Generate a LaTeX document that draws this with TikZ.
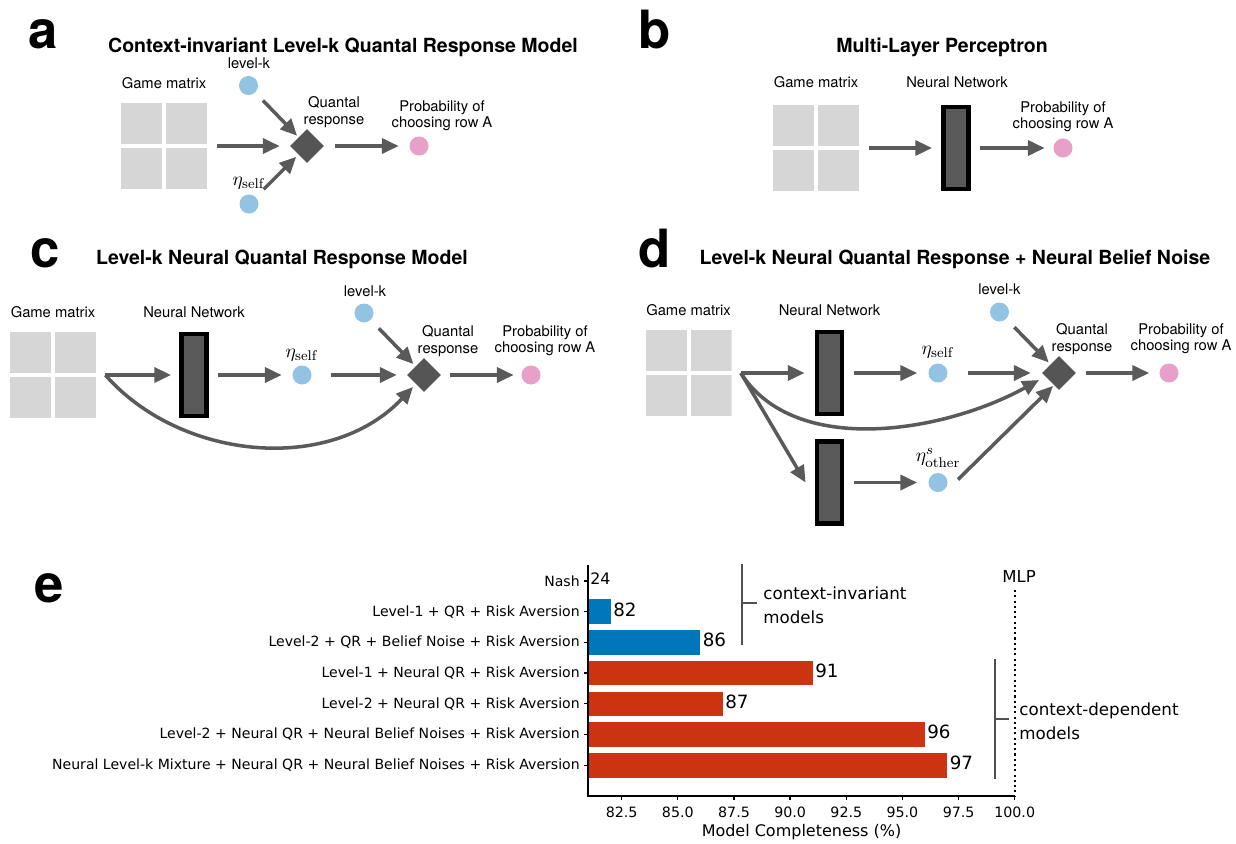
\documentclass[tikz,border=0pt]{standalone}
\usepackage[no-math]{fontspec}
\setmainfont{TeX Gyre Heros}
\newfontfamily\dvs{DejaVu Sans}
\usetikzlibrary{arrows.meta,shapes.geometric}
\definecolor{arr}{RGB}{90,90,90}
\definecolor{dia}{RGB}{85,85,85}
\definecolor{nnfill}{RGB}{90,90,90}
\definecolor{cellgray}{RGB}{214,214,214}
\definecolor{cblue}{RGB}{146,195,227}
\definecolor{cpink}{RGB}{231,161,200}
\definecolor{barblue}{RGB}{0,119,187}
\definecolor{barred}{RGB}{204,51,17}
\definecolor{brk}{RGB}{80,80,80}
\begin{document}
\begin{tikzpicture}[x=0.02cm,y=-0.02cm,
  flow/.style={draw=arr, line width=2pt, -{Triangle[length=9.5pt,width=8.5pt]}},
  ball/.style={circle, inner sep=0, minimum size=0.38cm},
  bball/.style={ball, fill=cblue},
  pball/.style={ball, fill=cpink},
  qrnode/.style={diamond, fill=dia, inner sep=0, minimum size=0.68cm},
  nnnode/.style={rectangle, draw=black, fill=nnfill, line width=2.8pt, minimum width=0.5cm, minimum height=1.64cm, inner sep=0},
  gridbox/.style={rectangle, minimum size=1.72cm, inner sep=0, path picture={
    \fill[cellgray] ([shift={(-0.86cm,0.86cm)}]path picture bounding box.center) rectangle ++(0.82cm,-0.82cm);
    \fill[cellgray] ([shift={(0.04cm,0.86cm)}]path picture bounding box.center) rectangle ++(0.82cm,-0.82cm);
    \fill[cellgray] ([shift={(-0.86cm,-0.04cm)}]path picture bounding box.center) rectangle ++(0.82cm,-0.82cm);
    \fill[cellgray] ([shift={(0.04cm,-0.04cm)}]path picture bounding box.center) rectangle ++(0.82cm,-0.82cm);
  }},
  lbl/.style={font=\fontsize{8.4}{9.3}\selectfont, align=center, inner sep=0},
  mlbl/.style={font=\fontsize{10.8}{12}\selectfont, inner sep=0},
  ttl/.style={font=\bfseries\fontsize{11.1}{13}\selectfont, inner sep=0, anchor=base},
  letter/.style={font=\bfseries\fontsize{30}{31}\selectfont, inner sep=0, anchor=base west},
  rowlbl/.style={font=\dvs\fontsize{8}{9}\selectfont, anchor=east, inner sep=0},
  vallbl/.style={font=\dvs\fontsize{10.4}{12}\selectfont, anchor=west, inner sep=0},
  ticklbl/.style={font=\dvs\fontsize{8.1}{9}\selectfont, inner sep=0},
  grplbl/.style={font=\dvs\fontsize{9.5}{13.6}\selectfont, anchor=west, align=left, inner sep=0},
  axline/.style={line width=0.75pt, black},
  brkline/.style={line width=0.7pt, brk}
]
\fill[white] (0,0) rectangle (1236,843);
\useasboundingbox (0,0) rectangle (1236,843);

% ---------- panel a ----------
\node[letter] (La) at (28,48) {a};
\node[ttl] (Ta) at (343,52) {Context-invariant Level-k Quantal Response Model};
\node[gridbox] (ga) at (164,146) {};
\node[lbl] (gal) at (164,83) {Game matrix};
\node[bball] (alk) at (248.5,85.5) {};
\node[lbl] (alkl) at (249,63) {level-k};
\node[bball] (aeta) at (249,204) {};
\node[mlbl] (aetal) at (249,183) {$\eta_{\mathrm{self}}$};
\node[qrnode] (aqr) at (307,146) {};
\node[lbl] (aqrl) at (334,112) {Quantal\\response};
\node[pball] (ap) at (419,146) {};
\node[lbl] (apl) at (442,116) {Probability of\\choosing row A};
\draw[flow] ([xshift=0.2cm]ga.east) -- ([xshift=-0.2cm]aqr.west);
\draw[flow, shorten <=0.22cm, shorten >=0.04cm] (alk) -- (aqr);
\draw[flow, shorten <=0.22cm, shorten >=0.06cm] (aeta) -- (aqr);
\draw[flow] ([xshift=0.22cm]aqr.east) -- ([xshift=-0.21cm]ap.west);

% ---------- panel b ----------
\node[letter] (Lb) at (638.5,48) {b};
\node[ttl] (Tb) at (942,52) {Multi-Layer Perceptron};
\node[gridbox] (gb) at (816,148) {};
\node[lbl] (gbl) at (816,82) {Game matrix};
\node[nnnode] (nb) at (956,148) {};
\node[lbl] (nbl) at (957,82) {Neural Network};
\node[pball] (pb) at (1063,148) {};
\node[lbl] (pbl) at (1063,117) {Probability of\\choosing row A};
\draw[flow] ([xshift=0.2cm]gb.east) -- ([xshift=-0.18cm]nb.west);
\draw[flow] ([xshift=0.18cm]nb.east) -- ([xshift=-0.17cm]pb.west);

% ---------- panel c ----------
\node[letter] (Lc) at (30,267) {c};
\node[ttl] (Tc) at (282,264) {Level-k Neural Quantal Response Model};
\node[gridbox] (gc) at (53,375) {};
\node[lbl] (gcl) at (53,312) {Game matrix};
\node[nnnode] (nc) at (194,375) {};
\node[lbl] (ncl) at (194,312) {Neural Network};
\node[bball] (ceta) at (302,375) {};
\node[mlbl] (cetal) at (302,355) {$\eta_{\mathrm{self}}$};
\node[bball] (clk) at (364,313) {};
\node[lbl] (clkl) at (365,291) {level-k};
\node[qrnode] (cqr) at (424,375) {};
\node[lbl] (cqrl) at (448,341) {Quantal\\response};
\node[pball] (cp) at (531,375) {};
\node[lbl] (cpl) at (545,341) {Probability of\\choosing row A};
\coordinate (cgo) at ([xshift=0.18cm]gc.east);
\coordinate (cce) at (413,387);
\draw[flow] (cgo) -- ([xshift=-0.16cm]nc.west);
\draw[flow] ([xshift=0.18cm]nc.east) -- ([xshift=-0.21cm]ceta.west);
\draw[flow] ([xshift=0.39cm]ceta.east) -- ([xshift=-0.2cm]cqr.west);
\draw[flow, shorten <=0.23cm, shorten >=0.06cm] (clk) -- (cqr);
\draw[flow] ([xshift=0.18cm]cqr.east) -- ([xshift=-0.15cm]cp.west);
\draw[flow] (cgo) .. controls (180,460) and (330,475) .. (cce);

% ---------- panel d ----------
\node[letter] (Ld) at (638,267) {d};
\node[ttl] (Td) at (955,264) {Level-k Neural Quantal Response + Neural Belief Noise};
\node[gridbox] (gd) at (688.5,373) {};
\node[lbl] (gdl) at (688.5,310) {Game matrix};
\node[nnnode] (nd1) at (829.5,373) {};
\node[nnnode] (nd2) at (829.5,482.5) {};
\node[lbl] (ndl) at (829.5,310) {Neural Network};
\node[bball] (deta) at (938,373) {};
\node[mlbl] (detal) at (938,352) {$\eta_{\mathrm{self}}$};
\node[bball] (doth) at (938,482.5) {};
\node[mlbl] (dothl) at (938,458) {$\eta^{s}_{\mathrm{other}}$};
\node[bball] (dlk) at (999.5,312) {};
\node[lbl] (dlkl) at (999.5,289) {level-k};
\node[qrnode] (dqr) at (1059,373) {};
\node[lbl] (dqrl) at (1082,339) {Quantal\\response};
\node[pball] (dp) at (1169,373) {};
\node[lbl] (dpl) at (1181,339) {Probability of\\choosing row A};
\coordinate (dgo) at ([xshift=0.18cm]gd.east);
\coordinate (dce) at (1039,380);
\draw[flow] (dgo) -- ([xshift=-0.2cm]nd1.west);
\draw[flow] ([xshift=0.2cm]nd1.east) -- ([xshift=-0.22cm]deta.west);
\draw[flow] ([xshift=0.4cm]deta.east) -- ([xshift=-0.22cm]dqr.west);
\draw[flow, shorten <=0.23cm, shorten >=0.05cm] (dlk) -- (dqr);
\draw[flow] ([xshift=0.2cm]dqr.east) -- ([xshift=-0.2cm]dp.west);
\draw[flow] (dgo) -- ([xshift=-0.18cm]nd2.west);
\draw[flow] ([xshift=0.2cm]nd2.east) -- ([xshift=-0.22cm]doth.west);
\draw[flow] ([shift={(0.4cm,0.06cm)}]doth.center) -- ([shift={(-0.12cm,-0.26cm)}]dqr.center);
\draw[flow] (dgo) .. controls (795,458) and (945,432) .. (dce);

% ---------- panel e ----------
\node[letter] (Le) at (34,602) {e};
\node[rowlbl] (r0) at (580,581) {Nash};
\node[rowlbl] (r1) at (580,611.7) {Level-1 + QR + Risk Aversion};
\node[rowlbl] (r2) at (580,642.4) {Level-2 + QR + Belief Noise + Risk Aversion};
\node[rowlbl] (r3) at (580,673.1) {Level-1 + Neural QR + Risk Aversion};
\node[rowlbl] (r4) at (580,703.8) {Level-2 + Neural QR + Risk Aversion};
\node[rowlbl] (r5) at (580,734.5) {Level-2 + Neural QR + Neural Belief Noises + Risk Aversion};
\node[rowlbl] (r6) at (580,765.2) {Neural Level-k Mixture + Neural QR + Neural Belief Noises + Risk Aversion};

\fill[barblue] (588,599.4) rectangle (610.5,624.0);
\fill[barblue] (588,630.1) rectangle (700.3,654.7);
\fill[barred] (588,660.8) rectangle (812.6,685.4);
\fill[barred] (588,691.5) rectangle (722.8,716.1);
\fill[barred] (588,722.2) rectangle (924.9,746.8);
\fill[barred] (588,752.9) rectangle (947.4,777.5);

\node[vallbl, font=\dvs\fontsize{9}{10}\selectfont] (v0) at (590,579) {24};
\node[vallbl] (v1) at (613,609.5) {82};
\node[vallbl] (v2) at (702.5,640) {86};
\node[vallbl] (v3) at (815,671) {91};
\node[vallbl] (v4) at (725,701.5) {87};
\node[vallbl] (v5) at (927,732) {96};
\node[vallbl] (v6) at (949.5,763) {97};

\draw[axline] (588,565) -- (588,796) -- (1014.7,796);
\foreach \y in {581,611.7,642.4,673.1,703.8,734.5,765.2}
  \draw[axline] (584,\y) -- (588,\y);
\foreach \v/\x [count=\i] in {82.5/621.7, 85.0/677.8, 87.5/734.0, 90.0/790.1, 92.5/846.3, 95.0/902.4, 97.5/958.6, 100.0/1014.7} {
  \draw[axline] (\x,796) -- (\x,800);
  \node[ticklbl] (xt\i) at (\x,812) {\v};
}
\node[font=\dvs\fontsize{9.1}{10}\selectfont, inner sep=0] (xlab) at (801.5,832) {Model Completeness (\%)};

\draw[brkline] (742,564) -- (742,645);
\draw[brkline] (742,603) -- (757,603);
\node[grplbl] (gi) at (763,605) {context-invariant\\models};
\draw[brkline] (995,659) -- (995,779);
\draw[brkline] (995,719) -- (1009,719);
\node[grplbl] (gdp) at (1019,721) {context-dependent\\models};

\draw[line width=0.9pt, dash pattern=on 1.2pt off 1.8pt] (1014.7,590) -- (1014.7,796);
\node[font=\dvs\fontsize{9.4}{10}\selectfont, inner sep=0] (mlp) at (1019,576) {MLP};
\end{tikzpicture}
\end{document}
